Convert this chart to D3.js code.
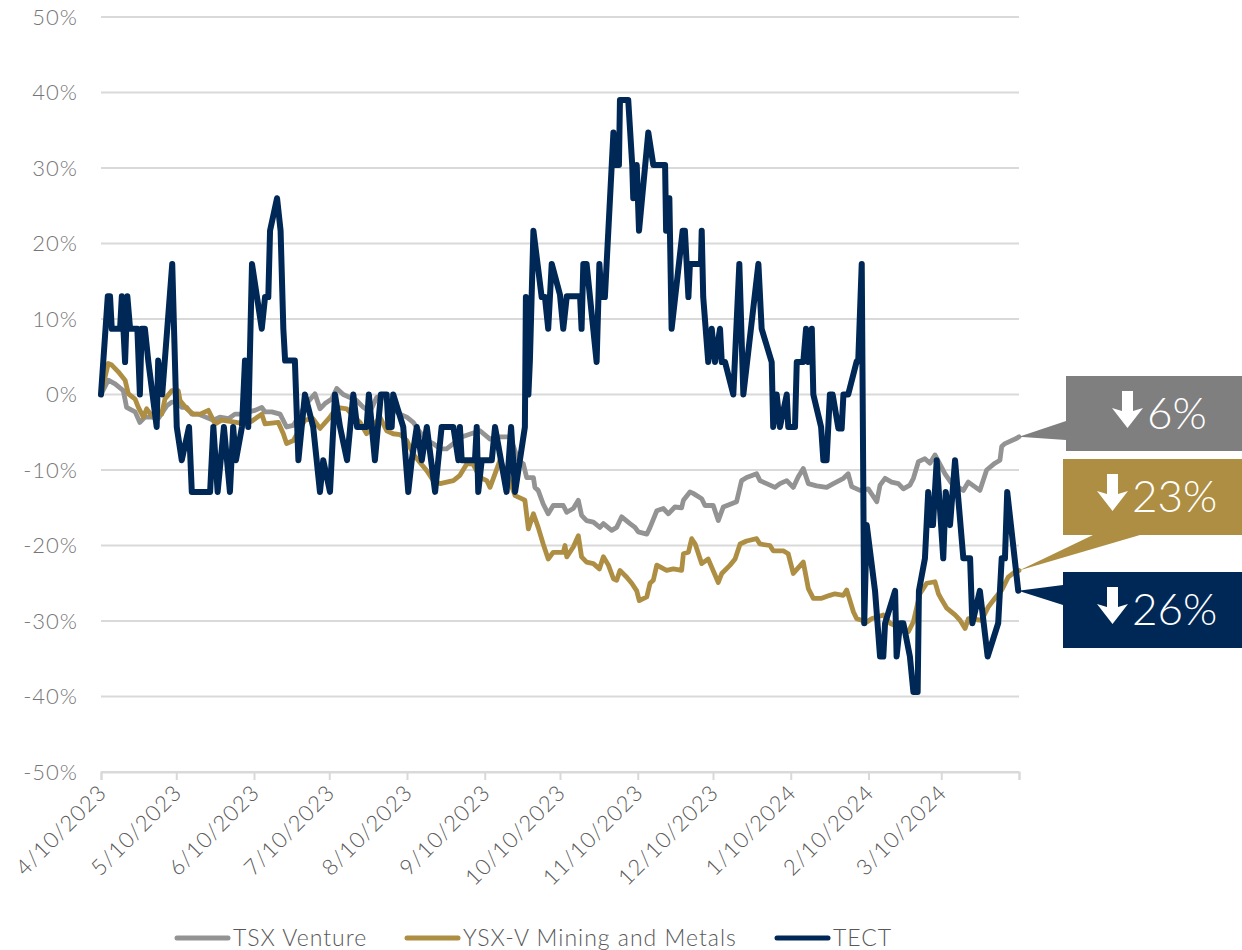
<!DOCTYPE html>
<html lang="en">
<head>
  <meta charset="utf-8">
  <script src="https://d3js.org/d3.v7.min.js"></script>
  <style>
    body { margin: 0; background: #fff; }
    text { font-family: Lato, "Open Sans", sans-serif; font-weight: 300; }
  </style>
</head>
<body>
<svg id="chart" width="1242" height="950"></svg>
<script>
  // dates are day offsets from 4/10/2023, values are % change
  const startDay = "4/10/2023";
  const endDay = "4/10/2024";
  const tickLabels = ["4/10/2023", "5/10/2023", "6/10/2023", "7/10/2023", "8/10/2023", "9/10/2023",
    "10/10/2023", "11/10/2023", "12/10/2023", "1/10/2024", "2/10/2024", "3/10/2024"];
  const yTicks = [50, 40, 30, 20, 10, 0, -10, -20, -30, -40, -50];
  const seriesNames = ["TSX Venture", "YSX-V Mining and Metals", "TECT"];
  const callouts = ["6%", "23%", "26%"];

  const tsxVenture = [
    [0, 0], [2.9, 1.9], [5.6, 1.4], [8.9, 0.5], [10.2, -1.7], [13.6, -2.3], [15.5, -3.7], [17.5, -3],
    [20.2, -3], [22.8, -3.2], [26.2, -1.5], [28.2, -1], [30.2, -1], [32.2, -1.7], [34.2, -1.7], [36.2, -2.6],
    [38.8, -2.6], [44.8, -3.4], [47.4, -3], [50.8, -3.2], [53.4, -2.6], [56.1, -2.6], [58.7, -2.3], [61.4, -2.1],
    [64.1, -1.7], [65.4, -2.3], [68.1, -2.3], [71.4, -2.6], [74.0, -4.3], [76.7, -4.1], [79.3, -2.6], [82.0, -1.2],
    [84.0, -0.4], [85.3, 0.1], [87.3, -1.9], [89.3, -1.2], [92.0, -0.6], [94.0, 0.8], [96.6, 0], [99.3, -0.4],
    [101.9, -0.8], [104.6, -1.7], [107.2, -2.3], [109.9, -0.4], [112.6, 0], [115.2, -1.7], [119.2, -2.6], [121.9, -3],
    [124.5, -3.7], [127.2, -5], [129.9, -6.1], [132.5, -6.5], [135.2, -7.2], [137.8, -7.2], [140.5, -6.5], [143.1, -5.7],
    [145.8, -5.4], [151.1, -4.8], [155.1, -5.9], [159.1, -5.6], [163.1, -5.6], [166.4, -8.7], [168.4, -9.2], [169.7, -11],
    [172.4, -11], [173.0, -12.3], [174.3, -12.7], [176.3, -14.5], [178.3, -15.8], [180.3, -14.7], [184.3, -14.7], [185.7, -15.6],
    [188.3, -15.1], [190.3, -14], [191.6, -16], [193.6, -16.7], [196.3, -16.9], [198.9, -17.6], [200.3, -17.1], [203.6, -18],
    [205.6, -17.6], [207.6, -16.2], [210.9, -17.1], [212.9, -17.6], [214.2, -18.2], [217.6, -18.5], [218.9, -17.6], [221.6, -15.4],
    [224.2, -15.1], [226.2, -15.8], [228.8, -14.9], [231.5, -15], [232.2, -14], [234.8, -12.9], [236.1, -13.1], [239.5, -13.8],
    [240.8, -14.7], [244.1, -14.7], [246.1, -16.7], [248.1, -14.9], [253.4, -14.2], [255.4, -11.4], [257.4, -11], [261.4, -10.5],
    [262.7, -11.4], [265.4, -11.8], [268.7, -12.3], [270.7, -11.8], [273.4, -11.4], [276.0, -12.3], [278.0, -10.9], [280.0, -9.8],
    [282.0, -11.8], [285.3, -12.1], [289.3, -12.3], [292.0, -11.8], [296.0, -11.1], [297.9, -10.5], [299.3, -12.2], [302.6, -12.7],
    [305.9, -12.5], [309.3, -14.2], [310.6, -12], [312.6, -11.1], [315.2, -11.6], [317.9, -11.8], [319.9, -12.5], [322.5, -12],
    [323.9, -11.1], [325.9, -8.9], [328.5, -8.5], [330.5, -9.1], [332.5, -8], [336.5, -10.5], [339.2, -11.8], [343.8, -12.7],
    [345.8, -11.6], [350.4, -12.7], [353.1, -10], [356.4, -9.1], [358.4, -8.7], [359.1, -6.9], [360.4, -6.5], [365.1, -5.8],
    [366.0, -5.6]
  ];

  const ysxMining = [
    [0, 0], [2.9, 4.1], [4.3, 3.9], [6.9, 3], [9.6, 1.9], [10.9, 0.1], [13.6, -0.6], [14.9, -1.7], [16.9, -3],
    [18.2, -1.9], [20.2, -2.8], [24.2, -2.6], [25.5, -0.6], [28.2, 0.5], [30.8, 0.5], [31.5, -0.8], [34.2, -1.9],
    [36.8, -2.6], [39.5, -2.6], [42.8, -2.1], [45.5, -3.9], [48.1, -3.4], [52.1, -3.6], [57.4, -3.9], [60.2, -3.5],
    [64.1, -2.6], [65.4, -3.9], [70.7, -3.7], [72.7, -5.2], [74.0, -6.5], [76.7, -6.1], [79.3, -4.5], [81.3, -3.4],
    [84.5, -3.2], [87.3, -4.5], [91.3, -3], [94.0, -1.7], [98.0, -1.9], [100.5, -2.8], [103.3, -3.7], [105.9, -5.2],
    [108.4, -4.2], [111.2, -3], [113.9, -4.8], [116.5, -5.2], [119.2, -5.3], [121.9, -6.1], [124.5, -7.9], [127.2, -9],
    [129.9, -10.1], [132.5, -11.4], [135.2, -11.8], [137.8, -11.6], [140.5, -11.4], [143.1, -10.7], [145.8, -9.2], [148.3, -9.2],
    [151.1, -11], [153.8, -11.4], [155.1, -12.3], [159.1, -8.7], [161.9, -10.5], [165.1, -13.4], [167.7, -13.8], [169.0, -14],
    [170.4, -17.8], [172.4, -15.8], [174.3, -17.6], [176.3, -19.8], [178.3, -21.8], [180.3, -20.9], [184.3, -20.9], [185.0, -20],
    [185.7, -21.5], [188.3, -20.2], [190.3, -18.7], [191.6, -21.5], [193.6, -22.2], [196.3, -22.4], [198.7, -23.1], [200.3, -21.5],
    [202.3, -22.6], [204.3, -24.4], [205.6, -24.6], [206.9, -23.3], [209.6, -24.2], [211.6, -25], [213.6, -26], [214.6, -27.3],
    [217.6, -26.8], [218.9, -25], [220.2, -24.6], [221.6, -22.6], [225.5, -23.3], [228.2, -23.1], [231.5, -23.3], [232.2, -21.1],
    [234.2, -20.9], [235.5, -19.1], [236.9, -19.8], [239.5, -22.4], [242.1, -21.8], [246.1, -24.9], [247.5, -23.7], [250.8, -22.6],
    [252.8, -21.8], [254.8, -19.8], [257.4, -19.4], [261.4, -19.1], [262.7, -19.8], [266.7, -20], [268.0, -20.7], [272.0, -20.7],
    [274.0, -21.1], [276.0, -23.7], [280.0, -22.2], [282.0, -25.7], [284.0, -27], [287.3, -27], [290.6, -26.6], [292.6, -26.4],
    [296.0, -26.6], [297.3, -25.9], [300.0, -28.8], [301.3, -29.7], [303.3, -29.9], [304.6, -30.3], [307.2, -29.7], [311.9, -29.2],
    [314.6, -30.3], [317.9, -30.8], [321.9, -31.4], [323.9, -30.1], [325.3, -28.1], [326.5, -26.4], [329.2, -25], [332.5, -24.8],
    [333.9, -26.4], [335.2, -27.2], [337.2, -28.3], [340.5, -29.2], [342.5, -29.9], [344.5, -31], [345.8, -29.7], [351.1, -29.9],
    [353.8, -28.1], [356.4, -27], [359.1, -25.9], [361.7, -24.2], [364.4, -23.5], [366.0, -23.3]
  ];

  const tect = [
    [0, 0], [2.7, 13], [3.6, 13], [4.3, 8.7], [7.6, 8.7], [8.3, 13], [9.6, 4.3], [10.5, 13], [11.6, 8.7],
    [14.5, 8.7], [15.5, 0], [16.2, 8.7], [17.5, 8.7], [18.9, 4.3], [22.2, -4.3], [22.8, 4.5], [24.4, 0],
    [28.4, 17.3], [30.2, -4.3], [32.2, -8.7], [35.1, -4.3], [36.2, -12.9], [43.5, -12.9], [44.8, -4.3], [46.5, -12.9],
    [49.0, -4.3], [51.4, -12.9], [52.7, -4.3], [53.8, -8.7], [56.2, -4.3], [57.4, 4.5], [58.7, -4.3], [60.2, 17.3],
    [64.1, 8.7], [65.4, 12.9], [66.7, 12.9], [67.4, 21.7], [70.2, 26], [71.6, 21.7], [72.7, 8.7], [73.4, 4.5],
    [77.3, 4.5], [78.7, -8.7], [81.3, 0], [84.6, -4.3], [87.3, -12.9], [88.6, -8.7], [91.3, -12.9], [93.3, 0],
    [95.3, -4.3], [98.1, -8.7], [100.6, 0], [102.1, -4.3], [105.9, -4.3], [106.8, 0], [109.2, -8.7], [111.6, 0],
    [113.9, 0], [114.6, -4.3], [115.9, -4.3], [116.5, 0], [120.5, -4.3], [122.5, -12.9], [123.9, -8.7], [125.9, -4.3],
    [127.9, -8.7], [129.9, -4.3], [133.2, -12.9], [135.8, -4.3], [140.5, -4.3], [142.5, -8.7], [143.1, -4.3], [143.8, -8.7],
    [149.1, -8.7], [149.8, -4.3], [150.4, -12.9], [151.8, -8.7], [155.8, -8.7], [157.1, -4.3], [161.7, -12.9], [163.5, -4.3],
    [165.1, -12.9], [169.0, -4.3], [169.4, 12.9], [170.4, 0], [171.0, 4.5], [172.4, 21.7], [175.7, 12.9], [177.0, 12.9],
    [178.3, 8.7], [179.7, 17.3], [183.0, 13.2], [184.3, 8.7], [185.7, 13], [191.0, 13], [191.6, 8.7], [192.3, 17.3],
    [193.6, 17.3], [197.6, 4.3], [198.7, 17.3], [199.6, 12.9], [200.9, 12.9], [204.3, 34.7], [204.9, 30.4], [206.5, 30.4],
    [206.9, 39], [210.2, 39], [211.8, 30.4], [212.2, 26], [213.6, 30.4], [214.5, 21.7], [218.2, 34.7], [220.2, 30.4],
    [224.9, 30.4], [225.3, 21.7], [226.6, 26], [227.5, 8.7], [231.9, 21.7], [232.8, 21.7], [234.2, 12.9], [234.8, 17.3],
    [239.2, 17.3], [239.5, 21.7], [240.1, 12.9], [242.1, 4.3], [243.5, 8.7], [244.8, 4.3], [246.8, 8.7], [247.5, 4.3],
    [248.8, 4.3], [252.1, 0], [254.5, 17.3], [256.1, 0], [262.1, 17.3], [263.4, 8.7], [267.4, 4.3], [268.0, -4.3],
    [269.4, 0], [270.7, -4.3], [273.4, 0], [274.0, -4.3], [276.7, -4.3], [277.4, 4.3], [280.0, 4.3], [281.1, 8.7],
    [282.0, 4.3], [283.4, 8.7], [284.0, 0], [287.1, -4.3], [288.0, -8.7], [289.3, -8.7], [290.6, 0], [291.7, 0],
    [294.0, -4.5], [295.3, -4.5], [296.0, 0], [297.9, 0], [301.3, 4.4], [301.9, 4.4], [303.3, 17.3], [304.3, -30.3],
    [305.3, -17.3], [308.6, -26], [310.6, -34.7], [311.9, -34.7], [312.6, -30.3], [316.6, -26], [317.2, -34.7], [318.6, -30.3],
    [319.9, -30.3], [322.5, -34.7], [323.9, -39.4], [325.6, -39.4], [326.1, -26], [328.5, -21.7], [329.8, -12.9], [330.8, -17.3],
    [331.7, -17.3], [333.2, -8.7], [335.8, -21.7], [336.8, -12.9], [338.5, -17.3], [340.5, -8.7], [343.8, -21.7], [346.5, -21.7],
    [347.4, -30.3], [350.4, -26], [353.5, -34.7], [357.7, -30.3], [359.1, -21.7], [360.4, -21.7], [361.3, -12.9], [365.7, -26]
  ];

  const colors = ["#939393", "#ad8e43", "#002856"];
  const boxColors = ["#7f7f7f", "#ad8e43", "#002856"];

  const svg = d3.select("#chart");
  const parse = d3.utcParse("%m/%d/%Y");
  const t0 = parse(startDay);
  const toDate = d => new Date(t0.getTime() + d * 864e5);

  const x = d3.scaleUtc().domain([t0, parse(endDay)]).range([101, 1019]);
  const y = d3.scaleLinear().domain([-50, 50]).range([772, 17]);

  // gridlines
  svg.append("g").selectAll("line").data(yTicks).enter().append("line")
    .attr("x1", 101).attr("x2", 1019)
    .attr("y1", d => y(d)).attr("y2", d => y(d))
    .attr("stroke", "#d9d9d9").attr("stroke-width", 2);

  // y labels
  svg.append("g").selectAll("text").data(yTicks).enter().append("text")
    .attr("x", 78).attr("y", d => y(d)).attr("dy", "0.36em")
    .attr("text-anchor", "end").attr("font-size", 22).attr("fill", "#767676")
    .attr("letter-spacing", 1)
    .text(d => d + "%");

  // x axis
  const tickDates = tickLabels.map(parse).concat([parse(endDay)]);
  const xAxis = d3.axisBottom(x).tickValues(tickDates).tickSize(8).tickFormat("");
  const axisG = svg.append("g").attr("transform", "translate(0," + y(-50) + ")").call(xAxis);
  axisG.select(".domain").attr("stroke", "#d9d9d9").attr("stroke-width", 2);
  axisG.selectAll(".tick line").attr("stroke", "#d9d9d9").attr("stroke-width", 2);

  svg.append("g").selectAll("text").data(tickLabels).enter().append("text")
    .attr("transform", d => "translate(" + (x(parse(d)) + 7) + "," + (y(-50) + 22) + ") rotate(-45)")
    .attr("text-anchor", "end").attr("font-size", 22).attr("fill", "#595959")
    .attr("letter-spacing", 1)
    .text(d => d);

  // lines
  const line = d3.line().x(d => x(toDate(d[0]))).y(d => y(d[1]));
  const allSeries = [tsxVenture, ysxMining, tect];
  const widths = [4.8, 4.8, 6];
  allSeries.forEach((s, i) => {
    svg.append("path").datum(s)
      .attr("d", line)
      .attr("fill", "none")
      .attr("stroke", colors[i])
      .attr("stroke-width", widths[i])
      .attr("stroke-linejoin", "round")
      .attr("stroke-linecap", "round");
  });

  // callouts
  const boxes = [
    {x: 1066, y: 376, w: 176, h: 75, ax: 1112, tx: 1147},
    {x: 1063, y: 459, w: 179, h: 76, ax: 1097, tx: 1132},
    {x: 1063, y: 572, w: 179, h: 76, ax: 1097, tx: 1132}
  ];
  const tips = allSeries.map(s => [x(toDate(s[s.length - 1][0])), y(s[s.length - 1][1])]);
  const pointers = [
    [tips[0], [1066, 421], [1066, 440]],
    [tips[1], [1093, 535], [1140, 535]],
    [tips[2], [1063, 585], [1063, 605]]
  ];

  boxes.forEach((b, i) => {
    svg.append("polygon")
      .attr("points", pointers[i].map(p => p.join(",")).join(" "))
      .attr("fill", boxColors[i]);
    svg.append("rect")
      .attr("x", b.x).attr("y", b.y).attr("width", b.w).attr("height", b.h)
      .attr("fill", boxColors[i]);
    const ay = b.y + 15;
    const cx = b.ax + 15.5;
    svg.append("path")
      .attr("d", "M" + (cx - 5.5) + "," + ay + "L" + (cx + 5.5) + "," + ay +
        "L" + (cx + 5.5) + "," + (ay + 20) + "L" + (b.ax + 31) + "," + (ay + 17) +
        "L" + cx + "," + (ay + 37) + "L" + b.ax + "," + (ay + 17) +
        "L" + (cx - 5.5) + "," + (ay + 20) + "Z")
      .attr("fill", "#fff");
    svg.append("text")
      .attr("x", b.tx).attr("y", b.y + 53)
      .attr("font-size", 44).attr("fill", "#fff")
      .text(callouts[i]);
  });

  // legend
  const legendX = [175, 405, 775];
  const lg = svg.append("g");
  seriesNames.forEach((n, i) => {
    lg.append("line")
      .attr("x1", legendX[i] + 2).attr("x2", legendX[i] + 53)
      .attr("y1", 938).attr("y2", 938)
      .attr("stroke", colors[i]).attr("stroke-width", 5).attr("stroke-linecap", "round");
    lg.append("text")
      .attr("x", legendX[i] + 58).attr("y", 938).attr("dy", "0.36em")
      .attr("font-size", 23).attr("fill", "#595959")
      .attr("letter-spacing", 1)
      .text(n);
  });
</script>
</body>
</html>
